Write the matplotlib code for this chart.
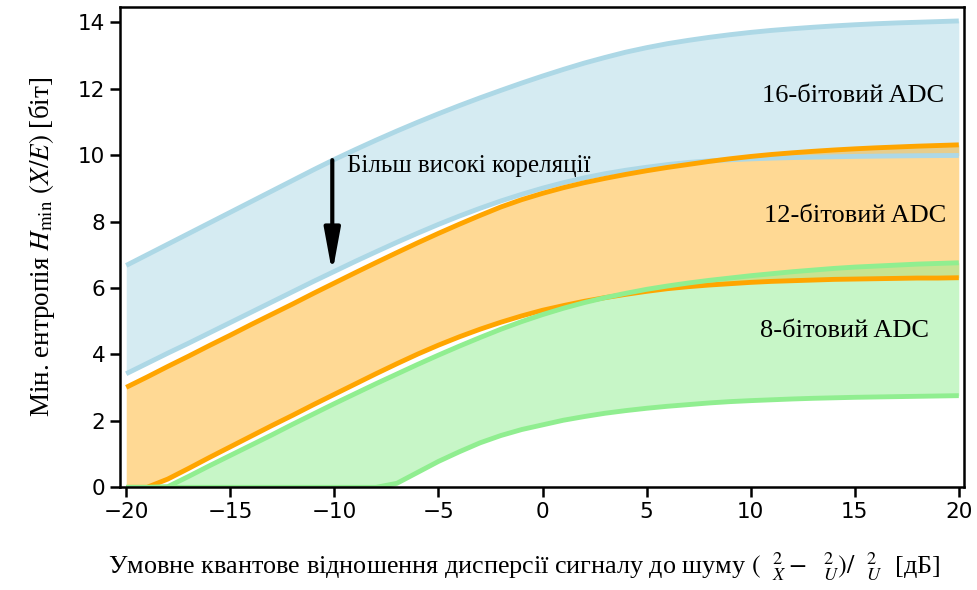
import matplotlib
matplotlib.use("Agg")
import matplotlib.pyplot as plt

# values, one per dB from -20 to 20
snr_db = list(range(-20, 21))
adc16_hi = [6.68, 7.0, 7.32, 7.64, 7.96, 8.28, 8.6, 8.92, 9.24, 9.56, 9.87,
            10.165, 10.45, 10.725, 10.99, 11.245, 11.49, 11.725, 11.95, 12.17, 12.38,
            12.58, 12.77, 12.94, 13.1, 13.235, 13.355, 13.455, 13.545, 13.625, 13.695,
            13.755, 13.805, 13.85, 13.89, 13.925, 13.955, 13.98, 14.0, 14.02, 14.04]
adc16_lo = [3.42, 3.73, 4.04, 4.34, 4.65, 4.96, 5.27, 5.58, 5.89, 6.2, 6.5,
            6.8, 7.09, 7.375, 7.65, 7.915, 8.165, 8.4, 8.62, 8.82, 9.005,
            9.17, 9.315, 9.44, 9.545, 9.635, 9.715, 9.78, 9.825, 9.86, 9.888,
            9.91, 9.927, 9.94, 9.952, 9.962, 9.97, 9.977, 9.983, 9.987, 9.99]
adc12_hi = [3.01, 3.32, 3.64, 3.95, 4.27, 4.58, 4.9, 5.21, 5.52, 5.84, 6.15,
            6.46, 6.765, 7.065, 7.36, 7.645, 7.92, 8.185, 8.44, 8.66, 8.85,
            9.02, 9.17, 9.3, 9.42, 9.53, 9.63, 9.72, 9.81, 9.89, 9.96,
            10.02, 10.07, 10.115, 10.155, 10.19, 10.22, 10.245, 10.27, 10.29, 10.31]
adc12_lo = [0, 0, 0.25, 0.57, 0.9, 1.22, 1.54, 1.86, 2.17, 2.49, 2.8,
            3.11, 3.42, 3.72, 4.01, 4.28, 4.53, 4.76, 4.97, 5.16, 5.33,
            5.47, 5.6, 5.71, 5.81, 5.9, 5.98, 6.04, 6.09, 6.13, 6.17,
            6.2, 6.22, 6.24, 6.26, 6.27, 6.28, 6.29, 6.3, 6.3, 6.31]
adc8_hi = [0, 0, 0.02, 0.33, 0.65, 0.96, 1.27, 1.58, 1.9, 2.21, 2.52,
           2.82, 3.12, 3.41, 3.7, 3.98, 4.25, 4.51, 4.76, 4.99, 5.2,
           5.39, 5.56, 5.71, 5.84, 5.96, 6.06, 6.15, 6.23, 6.3, 6.37,
           6.43, 6.49, 6.54, 6.59, 6.63, 6.66, 6.69, 6.72, 6.74, 6.76]
adc8_lo = [0, 0, 0, 0, 0, 0, 0, 0, 0, 0, 0,
           0, 0, 0.12, 0.45, 0.78, 1.07, 1.34, 1.56, 1.74, 1.88,
           2.02, 2.13, 2.23, 2.31, 2.38, 2.44, 2.49, 2.54, 2.58, 2.61,
           2.635, 2.66, 2.68, 2.695, 2.71, 2.72, 2.73, 2.74, 2.75, 2.76]

band_labels = ["16-бітовий ADC", "12-бітовий ADC", "8-бітовий ADC"]

plt.rcParams['font.family'] = ['Liberation Serif', 'DejaVu Serif']
plt.rcParams['mathtext.fontset'] = 'stix'

fig = plt.figure(figsize=(9.77, 5.9), dpi=100)
ax = fig.add_axes([0.1228, 0.174, 0.8639, 0.8136])

bands = [
    (adc16_lo, adc16_hi, '#add8e6', 0.5),
    (adc12_lo, adc12_hi, '#ffa500', 0.42),
    (adc8_lo, adc8_hi, '#90ee90', 0.5),
]
# fills first, lines on top
for lo, hi, col, a in bands:
    ax.fill_between(snr_db, lo, hi, color=col, alpha=a, lw=0)
for lo, hi, col, a in bands:
    ax.plot(snr_db, hi, color=col, lw=3.5, solid_capstyle='butt')
    ax.plot(snr_db, lo, color=col, lw=3.5, solid_capstyle='butt')

ax.text(14.9, 11.6, band_labels[0], ha='center', va='baseline', fontsize=19)
ax.text(15.0, 7.98, band_labels[1], ha='center', va='baseline', fontsize=19)
ax.text(14.5, 4.52, band_labels[2], ha='center', va='baseline', fontsize=19)

ax.annotate('', xy=(-10.1, 6.45), xytext=(-10.1, 9.85),
            arrowprops=dict(arrowstyle='-|>,head_width=0.24,head_length=1.3',
                            color='black', lw=3, mutation_scale=20,
                            shrinkA=0, shrinkB=0))
ax.text(-9.4, 9.49, "Більш високі кореляції", ha='left', va='baseline', fontsize=18)

ax.set_xlim(-20.3, 20.25)
ax.set_ylim(0, 14.45)
ax.set_xticks([-20, -15, -10, -5, 0, 5, 10, 15, 20])
ax.set_yticks([0, 2, 4, 6, 8, 10, 12, 14])
ax.tick_params(direction='out', length=7, width=1.8, labelsize=15.5)
for lab in ax.get_xticklabels() + ax.get_yticklabels():
    lab.set_fontfamily('DejaVu Sans')
for sp in ax.spines.values():
    sp.set_linewidth(1.8)

ax.set_ylabel(r"Мін. ентропія $H_{\mathrm{min}}\ (X/E)$ [біт]", fontsize=19.5, labelpad=15)
ax.set_xlabel(r"Умовне квантове відношення дисперсії сигналу до шуму "
              r"$(\ \ {}^{2}_{X} -\ \ {}^{2}_{U})/\ \ {}^{2}_{U}$  [дБ]",
              fontsize=18.8, labelpad=20)
ax.xaxis.label.set_x(0.479)

fig.savefig("out.png", dpi=100)
